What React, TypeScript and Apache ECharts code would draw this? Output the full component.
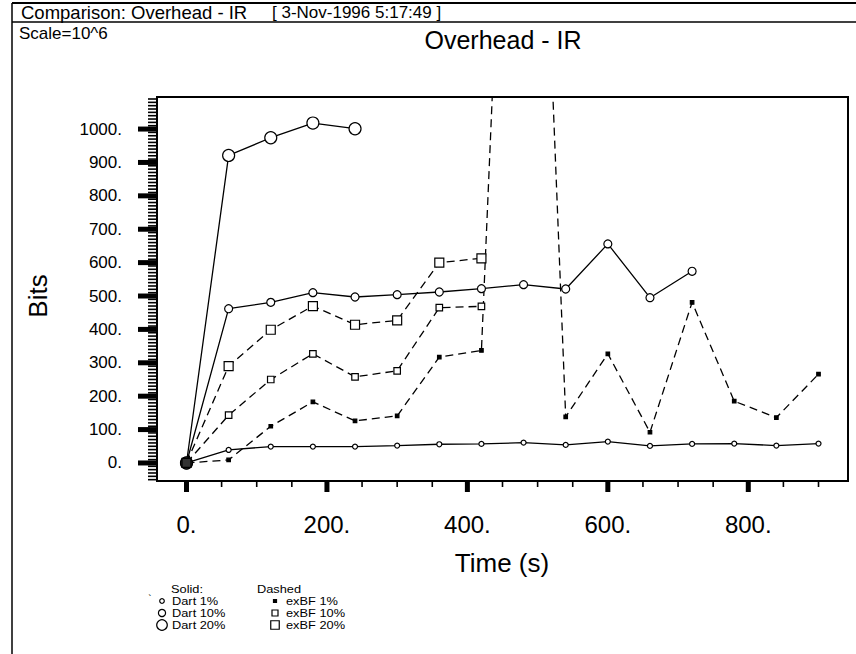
import React, { useEffect, useRef } from 'react';
import * as echarts from 'echarts';

// Time (s) at which each run was sampled
const times = [0, 60, 120, 180, 240, 300, 360, 420, 480, 540, 600, 660, 720, 780, 840, 900];
// Overhead in bits (scale 10^6)
const dart1 = [0, 39, 49, 49, 49, 52, 56, 57, 61, 54, 64, 51, 57, 58, 52, 58];
const dart10 = [0, 462, 481, 510, 497, 504, 512, 522, 534, 521, 656, 495, 574];
const dart20 = [0, 921, 974, 1018, 1001];
const exbf1 = [0, 9, 110, 183, 126, 141, 317, 337, 3300, 138, 327, 92, 481, 185, 136, 266];
const exbf10 = [0, 143, 250, 327, 258, 276, 465, 469];
const exbf20 = [0, 290, 399, 470, 414, 427, 600, 613];

const yMajorTicks = [0, 100, 200, 300, 400, 500, 600, 700, 800, 900, 1000];
const xMajorTicks = [0, 200, 400, 600, 800];
const yMinorStep = 10;
const xMinorStep = 50;

const X_MIN = -42;
const X_MAX = 942;
const Y_MIN = -54;
const Y_MAX = 1096;

const FONT = '"Liberation Sans", Arial, Helvetica, sans-serif';

function buildMinor(from: number, to: number, step: number, majors: number[]) {
  const out: number[] = [];
  for (let v = from; v <= to; v += step) {
    if (!majors.includes(v)) out.push(v);
  }
  return out;
}

function lineSeries(name: string, values: number[], symbol: string, size: number, dashed: boolean, filled: boolean) {
  return {
    type: 'line',
    name,
    data: values.map((v, i) => [times[i], v]),
    symbol,
    symbolSize: size,
    showSymbol: true,
    clip: true,
    itemStyle: { color: filled ? '#000' : '#fff', borderColor: '#000', borderWidth: 1.2 },
    lineStyle: { color: '#000', width: 1.3, type: dashed ? [8, 5] : 'solid' },
    emphasis: { disabled: true },
    z: 3,
  };
}

function tickSeries(data: number[][], kind: 'yMajor' | 'yMinor' | 'xMajor' | 'xMinor') {
  return {
    type: 'custom',
    silent: true,
    clip: false,
    z: 5,
    data,
    renderItem: (_p: any, api: any) => {
      const p = api.coord([api.value(0), api.value(1)]);
      let shape;
      if (kind === 'yMajor') shape = { x: p[0] - 19, y: p[1] - 2.5, width: 19, height: 5 };
      else if (kind === 'yMinor') shape = { x: p[0] - 9, y: p[1] - 0.8, width: 9, height: 1.6 };
      else if (kind === 'xMajor') shape = { x: p[0] - 2.5, y: p[1], width: 5, height: 11 };
      else shape = { x: p[0] - 0.8, y: p[1], width: 1.6, height: 6 };
      return { type: 'rect', shape, style: { fill: '#000' } };
    },
  };
}

export default function App() {
  const ref = useRef<HTMLDivElement>(null);
  useEffect(() => {
    document.body.style.margin = '0';
    if (!ref.current) return;
    const chart = echarts.init(ref.current, null, { renderer: 'svg' });

    const yMinor = buildMinor(-50, 1090, yMinorStep, yMajorTicks);
    const xMinor = buildMinor(50, 900, xMinorStep, xMajorTicks);

    const txt = (text: string, x: number, y: number, size: number, align = 'left', extra: any = {}) => ({
      type: 'text',
      x,
      y,
      ...extra,
      style: {
        text,
        fill: '#000',
        font: `${size}px ${FONT}`,
        textAlign: align,
        textVerticalAlign: 'middle',
      },
    });

    const legendCircle = (cx: number, cy: number, r: number) => ({
      type: 'circle',
      shape: { cx, cy, r },
      style: { fill: '#fff', stroke: '#000', lineWidth: 1.2 },
    });
    const legendRect = (cx: number, cy: number, s: number, filled: boolean) => ({
      type: 'rect',
      shape: { x: cx - s / 2, y: cy - s / 2, width: s, height: s },
      style: { fill: filled ? '#000' : '#fff', stroke: '#000', lineWidth: 1.2 },
    });

    const LF = 10.5;
    const SX = { scaleX: 1.22 };
    const rows = [589, 601, 613, 625];

    const option: any = {
      animation: false,
      backgroundColor: '#fff',
      grid: {
        left: 157,
        right: 8,
        top: 97,
        bottom: 173,
        show: true,
        borderColor: '#000',
        borderWidth: 2,
        backgroundColor: 'transparent',
      },
      xAxis: {
        type: 'value',
        min: X_MIN,
        max: X_MAX,
        splitNumber: 5,
        axisLine: { show: false },
        axisTick: { show: false },
        splitLine: { show: false },
        axisLabel: {
          margin: 31,
          color: '#000',
          fontSize: 24,
          fontFamily: FONT,
          showMinLabel: true,
          showMaxLabel: true,
          formatter: (v: number) => (xMajorTicks.includes(v) ? `${v}.` : ''),
        },
      },
      yAxis: {
        type: 'value',
        min: Y_MIN,
        max: Y_MAX,
        splitNumber: 11,
        axisLine: { show: false },
        axisTick: { show: false },
        splitLine: { show: false },
        axisLabel: {
          margin: 35,
          color: '#000',
          fontSize: 17,
          fontFamily: FONT,
          formatter: (v: number) => (yMajorTicks.includes(v) ? `${v}.` : ''),
        },
      },
      series: [
        lineSeries('Dart 1%', dart1, 'circle', 5, false, false),
        lineSeries('Dart 10%', dart10, 'circle', 8, false, false),
        lineSeries('Dart 20%', dart20, 'circle', 12, false, false),
        lineSeries('exBF 1%', exbf1, 'rect', 3.5, true, true),
        lineSeries('exBF 10%', exbf10, 'rect', 6.5, true, false),
        lineSeries('exBF 20%', exbf20, 'rect', 9, true, false),
        {
          type: 'scatter',
          data: [[times[0], dart1[0]]],
          symbol: 'circle',
          symbolSize: 13,
          itemStyle: { color: '#000' },
          z: 6,
          silent: true,
        },
        tickSeries(yMajorTicks.map((v) => [X_MIN, v]), 'yMajor'),
        tickSeries(yMinor.map((v) => [X_MIN, v]), 'yMinor'),
        tickSeries(xMajorTicks.map((v) => [v, Y_MIN]), 'xMajor'),
        tickSeries(xMinor.map((v) => [v, Y_MIN]), 'xMinor'),
      ],
      graphic: [
        { type: 'line', shape: { x1: 12, y1: 3, x2: 856, y2: 3 }, style: { stroke: '#000', lineWidth: 2 } },
        { type: 'line', shape: { x1: 12, y1: 3, x2: 12, y2: 654 }, style: { stroke: '#000', lineWidth: 1.5 } },
        { type: 'line', shape: { x1: 12, y1: 22, x2: 856, y2: 22 }, style: { stroke: '#000', lineWidth: 1.5 } },
        txt('Comparison: Overhead - IR', 21, 12.5, 18.5),
        txt('[ 3-Nov-1996 5:17:49 ]', 272, 12.5, 17),
        txt('Scale=10^6', 19, 33, 17),
        txt('Overhead - IR', 503, 40, 25, 'center'),
        txt('Time (s)', 502, 563, 26, 'center'),
        txt('Bits', 38, 296, 26, 'center', { rotation: Math.PI / 2 }),
        txt('`', 150, 599, 10, 'center'),
        txt('Solid:', 187, rows[0], LF, 'center', SX),
        txt('Dashed', 279, rows[0], LF, 'center', SX),
        legendCircle(162, rows[1], 2.3),
        legendCircle(162, rows[2], 3.6),
        legendCircle(162, rows[3], 5.3),
        txt('Dart 1%', 172, rows[1], LF, 'left', SX),
        txt('Dart 10%', 172, rows[2], LF, 'left', SX),
        txt('Dart 20%', 172, rows[3], LF, 'left', SX),
        legendRect(275, rows[1], 3, true),
        legendRect(275, rows[2], 6, false),
        legendRect(275, rows[3], 8.5, false),
        txt('exBF 1%', 286, rows[1], LF, 'left', SX),
        txt('exBF 10%', 286, rows[2], LF, 'left', SX),
        txt('exBF 20%', 286, rows[3], LF, 'left', SX),
      ],
    };

    chart.setOption(option);
    return () => chart.dispose();
  }, []);

  return <div ref={ref} style={{ width: 856, height: 654 }} />;
}
